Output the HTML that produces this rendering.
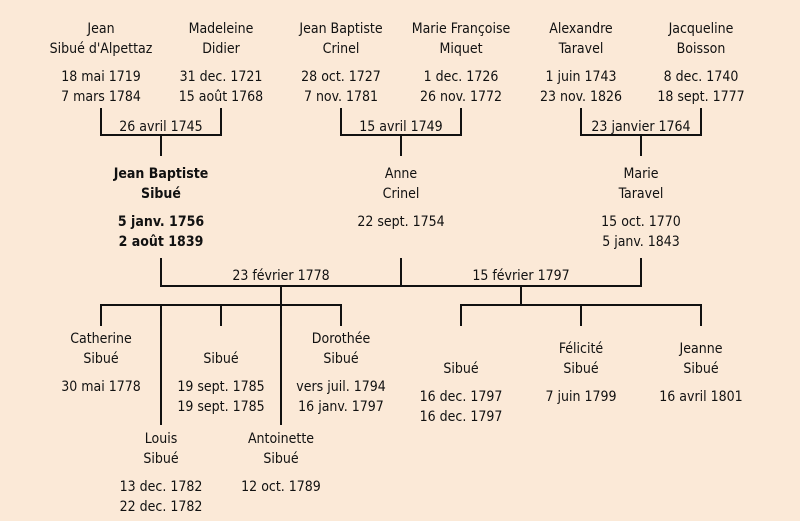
<!DOCTYPE html>
<html><head><meta charset="utf-8"><style>
body{margin:0;width:800px;height:521px;background:#fbe9d7;position:relative;overflow:hidden;font-family:"Comic Sans MS","DejaVu Sans Condensed","Liberation Sans",sans-serif;font-size:14px;color:#111}
.t{position:absolute;width:160px;margin-left:-80px;text-align:center;line-height:20px;white-space:nowrap;margin-top:2px}
.b{font-weight:bold}
.l{position:absolute;background:#111}
</style></head><body>
<div class="l" style="left:100px;top:108px;width:2px;height:28px"></div>
<div class="l" style="left:220px;top:108px;width:2px;height:28px"></div>
<div class="l" style="left:100px;top:134px;width:122px;height:2px"></div>
<div class="l" style="left:160px;top:134px;width:2px;height:22px"></div>
<div class="l" style="left:340px;top:108px;width:2px;height:28px"></div>
<div class="l" style="left:460px;top:108px;width:2px;height:28px"></div>
<div class="l" style="left:340px;top:134px;width:122px;height:2px"></div>
<div class="l" style="left:400px;top:134px;width:2px;height:22px"></div>
<div class="l" style="left:580px;top:108px;width:2px;height:28px"></div>
<div class="l" style="left:700px;top:108px;width:2px;height:28px"></div>
<div class="l" style="left:580px;top:134px;width:122px;height:2px"></div>
<div class="l" style="left:640px;top:134px;width:2px;height:22px"></div>
<div class="l" style="left:160px;top:258px;width:2px;height:29px"></div>
<div class="l" style="left:400px;top:258px;width:2px;height:29px"></div>
<div class="l" style="left:640px;top:258px;width:2px;height:29px"></div>
<div class="l" style="left:160px;top:285px;width:482px;height:2px"></div>
<div class="l" style="left:280px;top:285px;width:2px;height:21px"></div>
<div class="l" style="left:100px;top:304px;width:242px;height:2px"></div>
<div class="l" style="left:100px;top:304px;width:2px;height:22px"></div>
<div class="l" style="left:220px;top:304px;width:2px;height:22px"></div>
<div class="l" style="left:340px;top:304px;width:2px;height:22px"></div>
<div class="l" style="left:160px;top:304px;width:2px;height:121px"></div>
<div class="l" style="left:280px;top:304px;width:2px;height:121px"></div>
<div class="l" style="left:520px;top:285px;width:2px;height:21px"></div>
<div class="l" style="left:460px;top:304px;width:242px;height:2px"></div>
<div class="l" style="left:460px;top:304px;width:2px;height:22px"></div>
<div class="l" style="left:580px;top:304px;width:2px;height:22px"></div>
<div class="l" style="left:700px;top:304px;width:2px;height:22px"></div>
<div class="t" style="left:101px;top:17px">Jean<br>Sibué d'Alpettaz</div>
<div class="t" style="left:101px;top:65px">18 mai 1719<br>7 mars 1784</div>
<div class="t" style="left:221px;top:17px">Madeleine<br>Didier</div>
<div class="t" style="left:221px;top:65px">31 dec. 1721<br>15 août 1768</div>
<div class="t" style="left:341px;top:17px">Jean Baptiste<br>Crinel</div>
<div class="t" style="left:341px;top:65px">28 oct. 1727<br>7 nov. 1781</div>
<div class="t" style="left:461px;top:17px">Marie Françoise<br>Miquet</div>
<div class="t" style="left:461px;top:65px">1 dec. 1726<br>26 nov. 1772</div>
<div class="t" style="left:581px;top:17px">Alexandre<br>Taravel</div>
<div class="t" style="left:581px;top:65px">1 juin 1743<br>23 nov. 1826</div>
<div class="t" style="left:701px;top:17px">Jacqueline<br>Boisson</div>
<div class="t" style="left:701px;top:65px">8 dec. 1740<br>18 sept. 1777</div>
<div class="t" style="left:161px;top:115px">26 avril 1745</div>
<div class="t" style="left:401px;top:115px">15 avril 1749</div>
<div class="t" style="left:641px;top:115px">23 janvier 1764</div>
<div class="t b" style="left:161px;top:162px">Jean Baptiste<br>Sibué</div>
<div class="t b" style="left:161px;top:210px">5 janv. 1756<br>2 août 1839</div>
<div class="t" style="left:401px;top:162px">Anne<br>Crinel</div>
<div class="t" style="left:401px;top:210px">22 sept. 1754</div>
<div class="t" style="left:641px;top:162px">Marie<br>Taravel</div>
<div class="t" style="left:641px;top:210px">15 oct. 1770<br>5 janv. 1843</div>
<div class="t" style="left:281px;top:264px">23 février 1778</div>
<div class="t" style="left:521px;top:264px">15 février 1797</div>
<div class="t" style="left:101px;top:327px">Catherine<br>Sibué</div>
<div class="t" style="left:101px;top:375px">30 mai 1778</div>
<div class="t" style="left:221px;top:347px">Sibué</div>
<div class="t" style="left:221px;top:375px">19 sept. 1785<br>19 sept. 1785</div>
<div class="t" style="left:341px;top:327px">Dorothée<br>Sibué</div>
<div class="t" style="left:341px;top:375px">vers juil. 1794<br>16 janv. 1797</div>
<div class="t" style="left:161px;top:427px">Louis<br>Sibué</div>
<div class="t" style="left:161px;top:475px">13 dec. 1782<br>22 dec. 1782</div>
<div class="t" style="left:281px;top:427px">Antoinette<br>Sibué</div>
<div class="t" style="left:281px;top:475px">12 oct. 1789</div>
<div class="t" style="left:461px;top:357px">Sibué</div>
<div class="t" style="left:461px;top:385px">16 dec. 1797<br>16 dec. 1797</div>
<div class="t" style="left:581px;top:337px">Félicité<br>Sibué</div>
<div class="t" style="left:581px;top:385px">7 juin 1799</div>
<div class="t" style="left:701px;top:337px">Jeanne<br>Sibué</div>
<div class="t" style="left:701px;top:385px">16 avril 1801</div>
</body></html>
